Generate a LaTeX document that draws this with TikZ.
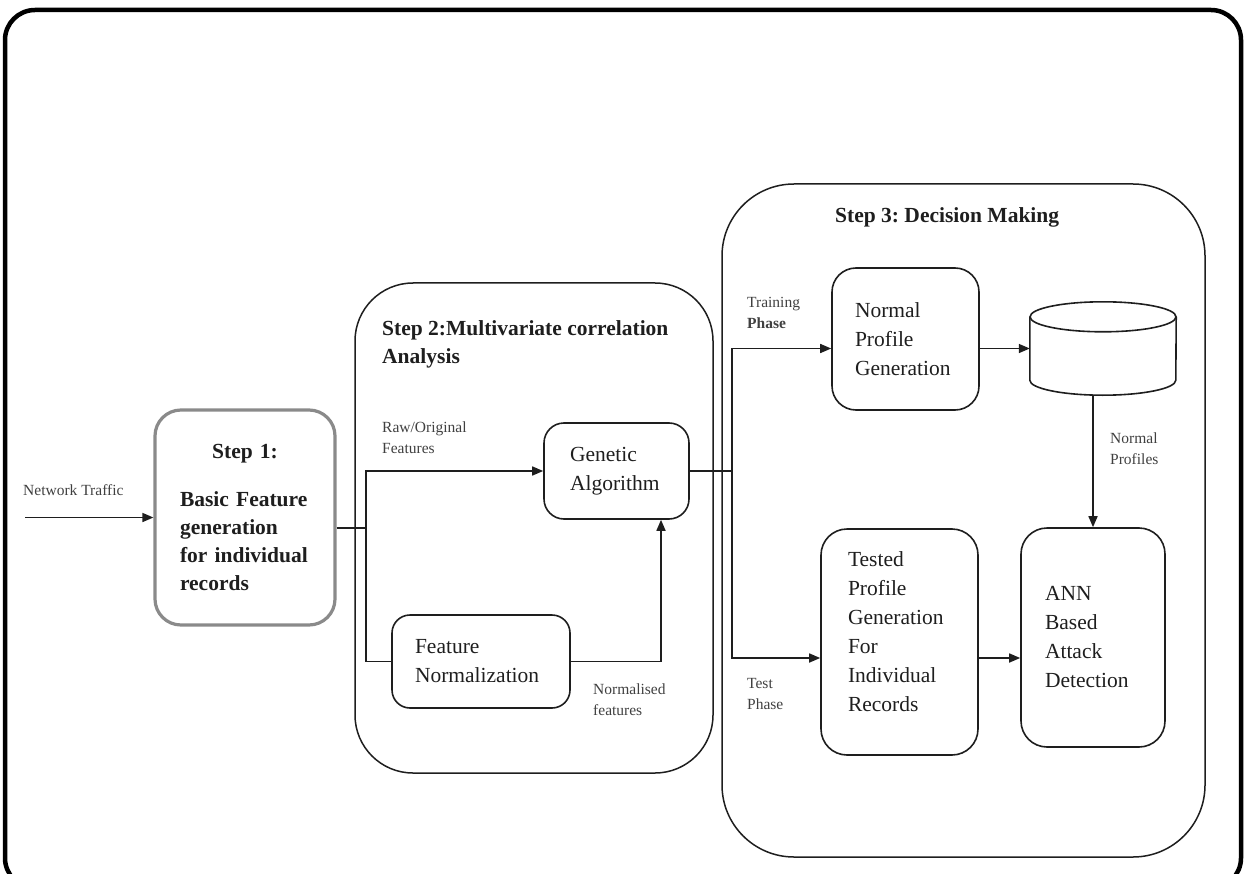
\documentclass[tikz,border=0pt]{standalone}
\usepackage{fontspec}
\setmainfont{Liberation Serif}
\usetikzlibrary{arrows.meta}
\definecolor{sonegray}{HTML}{8A8A8A}
\definecolor{ink}{HTML}{1E1E1E}
\frenchspacing
\begin{document}
\begin{tikzpicture}[x=1pt,y=-1pt,
  box/.style={draw=ink, line width=1.6pt, rounded corners=22pt, align=left, text=ink,
    font=\fontsize{21.5}{29}\selectfont, inner ysep=0pt},
  cont/.style={draw=ink, line width=1.5pt, rectangle, inner sep=0pt},
  lbl/.style={font=\fontsize{15.5}{21}\selectfont, align=left, anchor=west, inner sep=0pt, text=ink!85},
  ttl/.style={font=\bfseries\fontsize{21.5}{28}\selectfont, align=left, anchor=west, inner sep=0pt, text=ink},
  arr/.style={draw=ink, line width=1.6pt, -{Triangle[length=11pt,width=9pt]}},
  ln/.style={draw=ink, line width=1.6pt}]
\useasboundingbox (0,0) rectangle (1246,874);
% outer frame
\node[draw=black, line width=4.5pt, rounded corners=30pt, minimum width=1236pt, minimum height=878pt, inner sep=0pt] (frame) at (623,449) {};
% containers
\node[cont, rounded corners=58pt, minimum width=358pt, minimum height=490pt] (s2) at (534,528) {};
\node[cont, rounded corners=72pt, minimum width=483pt, minimum height=673pt] (s3) at (963.5,520.5) {};
% titles
\node[ttl] (t2) at (382,344) {Step 2:Multivariate correlation\\Analysis};
\node[ttl] (t3) at (835,217) {Step 3: Decision Making};
% step 1
\node[box, draw=sonegray, line width=3.2pt, rounded corners=26pt, minimum width=180pt, minimum height=215pt,
  text width=130pt, inner xsep=25pt, font=\bfseries\fontsize{21.5}{28}\selectfont] (s1) at (245,517.5)
  {\makebox[130pt]{Step 1:}\\[20pt]Basic Feature\\generation\\for individual\\records};
% boxes
\node[box, rounded corners=20pt, minimum width=145pt, minimum height=96pt, text width=93pt, inner xsep=26pt] (ga) at (616.5,471) {Genetic\\Algorithm};
\node[box, rounded corners=18pt, minimum width=178pt, minimum height=93pt, text width=132pt, inner xsep=23pt] (fn) at (481,661.5) {Feature\\Normalization};
\node[box, rounded corners=24pt, minimum width=147pt, minimum height=142pt, text width=101pt, inner xsep=23pt] (npg) at (905.5,339) {Normal\\Profile\\Generation};
\node[box, rounded corners=26pt, minimum width=157pt, minimum height=226pt, text width=103pt, inner xsep=27pt] (tpg) at (899.5,642) {Tested\\Profile\\Generation\\For\\Individual\\Records\\[-8pt]\mbox{}};
\node[box, rounded corners=26pt, minimum width=144pt, minimum height=219pt, text width=96pt, inner xsep=24pt] (ann) at (1093,637.5) {ANN\\Based\\Attack\\Detection};
% database cylinder
\node[minimum width=146pt, minimum height=93pt, inner sep=0pt] (db) at (1103,348.5) {};
\draw[ln] ([yshift=-15pt]db.north) ellipse [x radius=73pt, y radius=15pt];
\draw[ln] ([yshift=-15pt]db.north west) -- ([yshift=15pt]db.south west)
  arc[start angle=180, end angle=360, x radius=73pt, y radius=15pt] -- ([yshift=-15pt]db.north east);
% labels
\node[lbl] (ntl) at (23,490) {Network Traffic};
\node[lbl] (rawl) at (382,437.5) {Raw/Original\\Features};
\node[lbl] (norml) at (593,700) {Normalised\\features};
\node[lbl] (trl) at (747,312.5) {Training\\\textbf{Phase}};
\node[lbl] (tel) at (747,694) {Test\\Phase};
\node[lbl] (npl) at (1110,449) {Normal\\Profiles};
% connectors
\coordinate (nt) at (25,517.5);
\draw[arr] (nt) -- (s1.west);
\coordinate (sp) at (366,528);
\draw[ln] (s1.east |- sp) -- (sp);
\draw[arr] (sp) |- (ga.west);
\draw[ln] (sp) |- (fn.west);
\draw[arr] (fn.east) -| ([xshift=44.5pt]ga.south);
\coordinate (j) at (732,471);
\coordinate (ty) at (732,658);
\draw[ln] (ga.east) -- (j);
\draw[arr] (j) |- (npg.west |- db.west);
\draw[arr] (j) |- (tpg.west |- ty);
\draw[arr] (npg.east |- db.west) -- (db.west);
\draw[arr] (tpg.east |- ty) -- (ann.west |- ty);
\draw[arr] (db.south -| ann.north) -- (ann.north);
\end{tikzpicture}
\end{document}
